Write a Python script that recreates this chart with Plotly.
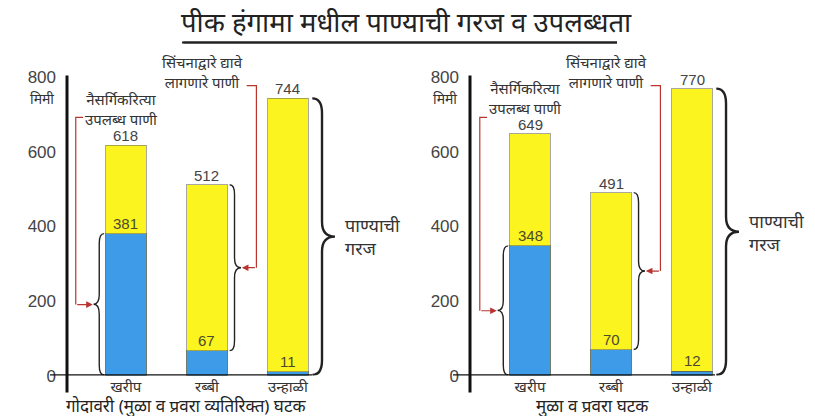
import plotly.graph_objects as go

# data
seasons = ["खरीप", "रब्बी", "उन्हाळी"]
panel_titles = ["गोदावरी (मुळा व प्रवरा व्यतिरिक्त) घटक", "मुळा व प्रवरा घटक"]
need_left = [618, 512, 744]       # पाण्याची गरज
natural_left = [381, 67, 11]      # नैसर्गिकरित्या उपलब्ध पाणी
need_right = [649, 491, 770]
natural_right = [348, 70, 12]
y_ticks = [0, 200, 400, 600, 800]

YELLOW = "#fbf41e"
BLUE = "#3d9be8"
RED = "#b8342f"
TEXT = "#333333"
FONT = "Noto Sans, Lato, sans-serif"
NUM_FONT = "Liberation Sans, Arial, sans-serif"

W, H = 815, 416
# the page ends up drawing the figure ~7px down and ~400px tall; map screen px to paper
Y_OFF, Y_SPAN = 6.4, 399.0


def px(x):
    return x / W


def py(y):
    return 1 - (y - Y_OFF) / Y_SPAN


def brace(xa, ya, x_end, x_body, x_tip, y0, y1, r, color="#222", width=1.6):
    ym = (y0 + y1) / 2
    path = (
        f"M {x_end},{y0} Q {x_body},{y0} {x_body},{y0 + r} "
        f"L {x_body},{ym - r} Q {x_body},{ym} {x_tip},{ym} "
        f"Q {x_body},{ym} {x_body},{ym + r} "
        f"L {x_body},{y1 - r} Q {x_body},{y1} {x_end},{y1}"
    )
    return dict(type="path", path=path, xref=xa, yref=ya,
                line=dict(color=color, width=width))


def paper_text(x, y, text, size, color=TEXT, family=FONT):
    return dict(x=px(x), y=py(y), xref="paper", yref="paper", text=text,
                showarrow=False, xanchor="center", yanchor="middle",
                font=dict(family=family, size=size, color=color))


fig = go.Figure()
shapes = []
annotations = []

panels = [
    ("x", "y", need_left, natural_left, panel_titles[0], 67, [-0.728, 3.8], 433.8, 186),
    ("x2", "y2", need_right, natural_right, panel_titles[1], 470, [-0.741, 3.5], 813.5, 592),
]

for xa, ya, need, natural, ptitle, axis_px, xr, right_px, title_cx in panels:
    idx = list(range(len(seasons)))
    extra = [n - a for n, a in zip(need, natural)]
    fig.add_trace(go.Bar(x=idx, y=natural, xaxis=xa, yaxis=ya, width=0.5,
                         marker=dict(color=BLUE, line=dict(color="rgba(60,80,60,0.75)", width=1)),
                         showlegend=False, hoverinfo="skip"))
    fig.add_trace(go.Bar(x=idx, y=extra, xaxis=xa, yaxis=ya, width=0.5,
                         marker=dict(color=YELLOW, line=dict(color="rgba(110,110,90,0.6)", width=1)),
                         showlegend=False, hoverinfo="skip"))

    # value labels
    for i in idx:
        annotations.append(dict(x=i, y=need[i], xref=xa, yref=ya, text=str(need[i]),
                                showarrow=False, yanchor="bottom", yshift=-1,
                                font=dict(family=NUM_FONT, size=15, color="#444")))
        annotations.append(dict(x=i, y=natural[i], xref=xa, yref=ya, text=str(natural[i]),
                                showarrow=False, yanchor="bottom", yshift=0,
                                font=dict(family=NUM_FONT, size=15, color="#4a4a30")))

    # braces
    shapes.append(brace(xa, ya, -0.27, -0.33, -0.40, 2, natural[0], 26, width=1.4))
    shapes.append(brace(xa, ya, 1.28, 1.34, 1.42, natural[1], need[1], 26, width=1.4))
    shapes.append(brace(xa, ya, 2.30, 2.42, 2.58, 2, need[2], 40, width=2.4))

    # red leader: naturally available water
    tip0 = natural[0] / 2
    shapes.append(dict(type="path", xref=xa, yref=ya,
                       path=f"M -0.53,693 L -0.62,693 L -0.62,{tip0}",
                       line=dict(color=RED, width=1.2)))
    annotations.append(dict(x=-0.41, y=tip0, ax=-0.62, ay=tip0, xref=xa, yref=ya,
                            axref=xa, ayref=ya, text="", showarrow=True, arrowhead=2,
                            arrowsize=1.1, arrowwidth=1.2, arrowcolor=RED))
    annotations.append(dict(x=-0.05, y=need[0], xref=xa, yref=ya, yanchor="bottom", yshift=14,
                            text="नैसर्गिकरित्या<br>उपलब्ध पाणी", showarrow=False,
                            font=dict(family=FONT, size=15, color=TEXT)))

    # red leader: irrigation water
    tip1 = (natural[1] + need[1]) / 2
    shapes.append(dict(type="path", xref=xa, yref=ya,
                       path=f"M 1.49,778 L 1.61,778 L 1.61,{tip1}",
                       line=dict(color=RED, width=1.2)))
    annotations.append(dict(x=1.43, y=tip1, ax=1.61, ay=tip1, xref=xa, yref=ya,
                            axref=xa, ayref=ya, text="", showarrow=True, arrowhead=2,
                            arrowsize=1.1, arrowwidth=1.2, arrowcolor=RED))
    annotations.append(dict(x=0.95, y=755, xref=xa, yref=ya, yanchor="bottom",
                            text="सिंचनाद्वारे द्यावे<br>लागणारे पाणी", showarrow=False,
                            font=dict(family=FONT, size=15, color=TEXT)))

    # water need label
    annotations.append(dict(x=2.68, y=need[2] / 2, xref=xa, yref=ya, xanchor="left",
                            text="पाण्याची<br>गरज", showarrow=False, align="left",
                            font=dict(family=FONT, size=18, color=TEXT)))

    # unit + axis title
    annotations.append(paper_text(axis_px - 25, 98, "मिमी", 14))
    annotations.append(paper_text(title_cx, 405, ptitle, 17, color="#222"))

    # axis lines
    shapes.append(dict(type="line", xref="paper", yref="paper",
                       x0=px(axis_px), x1=px(axis_px), y0=py(392), y1=py(75),
                       line=dict(color="#111", width=3)))
    shapes.append(dict(type="line", xref="paper", yref=ya,
                       x0=px(axis_px - 17), x1=px(axis_px + 245), y0=0, y1=0,
                       line=dict(color="#111", width=2.5)))

    axis_suffix = "" if xa == "x" else "2"
    fig.update_layout(**{
        f"xaxis{axis_suffix}": dict(domain=[px(axis_px), px(right_px)], range=xr,
                                    tickvals=idx, ticktext=seasons, showgrid=False,
                                    zeroline=False, showline=False, ticks="",
                                    tickfont=dict(family=FONT, size=15, color=TEXT),
                                    anchor=ya, fixedrange=True),
        f"yaxis{axis_suffix}": dict(domain=[py(375), py(75)], range=[0, 805],
                                    tickvals=y_ticks, showgrid=False, zeroline=False,
                                    showline=False, ticks="", ticklabelstandoff=10,
                                    tickfont=dict(family=NUM_FONT, size=17, color="#444"),
                                    anchor=xa, fixedrange=True),
    })

# title + underline
annotations.append(paper_text(406, 21, "पीक हंगामा मधील पाण्याची गरज व उपलब्धता", 27.5, color="#222"))
shapes.append(dict(type="rect", xref="paper", yref="paper", x0=px(182), x1=px(617),
                   y0=py(43), y1=py(41), fillcolor="#222", line=dict(width=0)))
annotations.append(dict(x=px(617), y=py(42), xref="paper", yref="paper", ax=-435, ay=0,
                        text="", showarrow=True, arrowhead=0, arrowwidth=2,
                        arrowcolor="#222", standoff=0, startstandoff=0))

fig.update_layout(
    barmode="stack",
    width=W, height=H,
    margin=dict(l=0, r=0, t=0, b=0),
    paper_bgcolor="white", plot_bgcolor="white",
    shapes=shapes, annotations=annotations,
    font=dict(family=FONT),
)

# page body has a default 8px margin; drop it so the figure sits at the window origin
fig.write_html("out.html", config={"displayModeBar": False},
               post_script="document.body.style.margin='0';document.body.style.overflow='hidden';")
